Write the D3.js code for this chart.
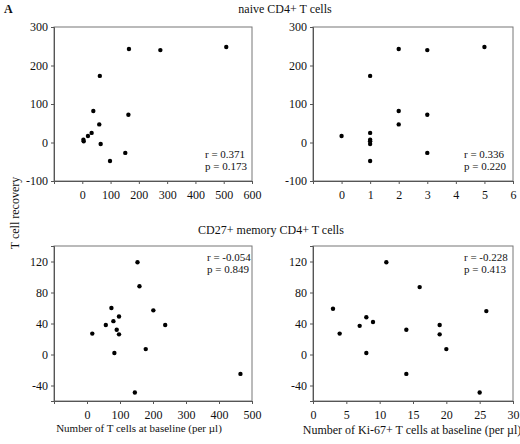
<!DOCTYPE html>
<html><head><meta charset="utf-8">
<script src="https://cdn.jsdelivr.net/npm/d3@7"></script>
<style>
body{margin:0;background:#fff;}
svg text{font-family:"Liberation Serif","DejaVu Serif","Times New Roman",serif;fill:#111;}
</style></head>
<body><svg id="c" width="520" height="444"></svg>
<script>
// naive CD4+ T cells
const naiveCount = [509,276,165,62,39,163,60,33,20,4,5,65,98,152];
const naiveCountRec = [248,240,243,173,82,72,47,25,17,7,3,-4,-48,-27];
const naiveKi = [5,3,2,1,2,3,2,1,0,1,1,1,1,3];
const naiveKiRec = [248,240,243,173,82,72,47,25,17,7,3,-4,-48,-27];
// CD27+ memory CD4+ T cells
const memCount = [153,159,74,201,80,97,57,90,97,16,237,178,83,145,465];
const memCountRec = [119,88,60,57,43,49,38,32,26,27,38,7,2,-49,-25];
const memKi = [11,16,3,26,9,8,7,14,19,4,19,20,8,25,14];
const memKiRec = [119,87,59,56,42,48,37,32,26,27,38,7,2,-49,-25];

const xTicksCountTop = [0,100,200,300,400,500,600];
const xTicksKiTop = [0,1,2,3,4,5,6];
const yTicksTop = [-100,0,100,200,300];
const xTicksCountBot = [0,100,200,300,400,500];
const xTicksKiBot = [0,5,10,15,20,25,30];
const yTicksBot = [-40,0,40,80,120];

const titles = ["naive CD4+ T cells","CD27+ memory CD4+ T cells"];
const stats = [["r = 0.371","p = 0.173"],["r = 0.336","p = 0.220"],["r = -0.054","p = 0.849"],["r = -0.228","p = 0.413"]];

const svg = d3.select("#c");

const panels = [
 {x0:54,x1:252,y0:27,y1:181,xd:[-100,600],yd:[-100,300],xt:xTicksCountTop,yt:yTicksTop,xs:naiveCount,ys:naiveCountRec,st:stats[0],sx:205,sy:158},
 {x0:313,x1:513,y0:27,y1:181,xd:[-1,6],yd:[-100,300],xt:xTicksKiTop,yt:yTicksTop,xs:naiveKi,ys:naiveKiRec,st:stats[1],sx:464,sy:158},
 {x0:54,x1:252,y0:246,y1:401,xd:[-100,500],yd:[-60,140],xt:xTicksCountBot,yt:yTicksBot,xs:memCount,ys:memCountRec,st:stats[2],sx:207,sy:261},
 {x0:313,x1:513,y0:246,y1:401,xd:[0,30],yd:[-60,140],xt:xTicksKiBot,yt:yTicksBot,xs:memKi,ys:memKiRec,st:stats[3],sx:464,sy:261}
];

panels.forEach(p=>{
  const x = d3.scaleLinear().domain(p.xd).range([p.x0,p.x1]);
  const y = d3.scaleLinear().domain(p.yd).range([p.y1,p.y0]);
  const g = svg.append("g");
  g.append("rect").attr("x",p.x0).attr("y",p.y0).attr("width",p.x1-p.x0).attr("height",p.y1-p.y0)
    .attr("fill","none").attr("stroke","#777").attr("stroke-width",1);
  const ax = g.append("g").attr("transform",`translate(0,${p.y1})`)
    .call(d3.axisBottom(x).tickValues(p.xt).tickSize(3).tickPadding(6).tickFormat(d3.format("d")));
  const ay = g.append("g").attr("transform",`translate(${p.x0},0)`)
    .call(d3.axisLeft(y).tickValues(p.yt).tickSize(3).tickPadding(3).tickFormat(d3.format("d")));
  [ax,ay].forEach(a=>{
    a.select(".domain").attr("stroke","#555");
    a.selectAll(".tick line").attr("stroke","#555");
    a.selectAll("text").attr("font-size",12).attr("fill","#111");
  });
  ay.selectAll(".tick text").text(d=>d<0?"-"+Math.abs(d):d);
  g.selectAll("circle.pt").data(p.xs.map((v,i)=>[v,p.ys[i]])).enter().append("circle")
    .attr("cx",d=>x(d[0])).attr("cy",d=>y(d[1])).attr("r",2.2).attr("fill","#000");
  p.st.forEach((s,i)=>{
    g.append("text").attr("x",p.sx).attr("y",p.sy+i*12).attr("font-size",11).text(s);
  });
});

svg.append("text").attr("x",4).attr("y",13).attr("font-size",12).attr("font-weight","bold").text("A");
svg.append("text").attr("x",285).attr("y",13).attr("text-anchor","middle").attr("font-size",12).text(titles[0]);
svg.append("text").attr("x",271).attr("y",234).attr("text-anchor","middle").attr("font-size",12).text(titles[1]);
svg.append("text").attr("transform","translate(19,213) rotate(-90)").attr("text-anchor","middle").attr("font-size",12).text("T cell recovery");
svg.append("text").attr("x",139).attr("y",432).attr("text-anchor","middle").attr("font-size",11).text("Number of T cells at baseline (per µl)");
svg.append("text").attr("x",412).attr("y",434).attr("text-anchor","middle").attr("font-size",12).text("Number of Ki-67+ T cells at baseline (per µl)");
</script></body></html>
